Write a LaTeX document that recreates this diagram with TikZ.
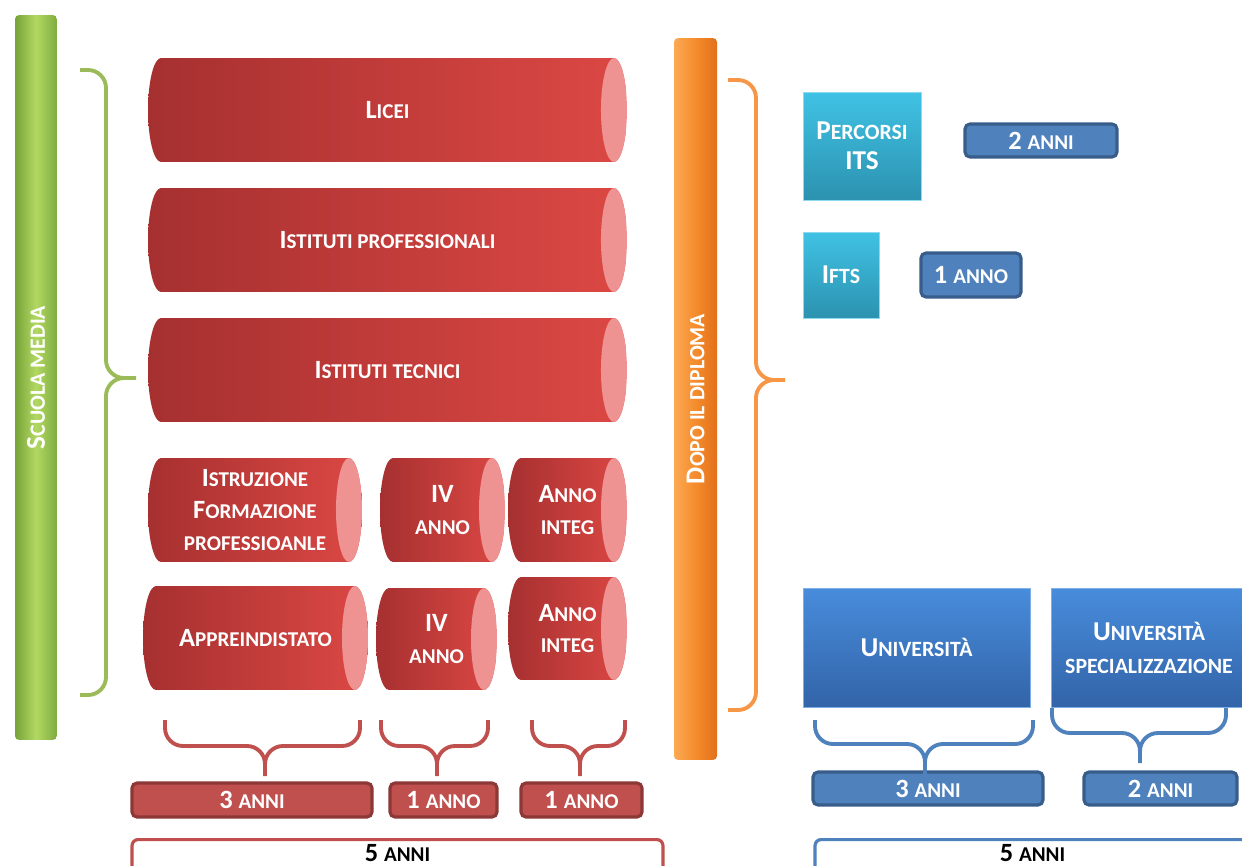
\documentclass[tikz,border=0pt]{standalone}
\usepackage{fontspec}
\setmainfont{Carlito}
\usepackage{xcolor}
\usepackage{tikz}
\usetikzlibrary{calc}

\definecolor{tubeL}{RGB}{166,48,48}
\definecolor{tubeR}{RGB}{220,72,68}
\definecolor{tubeEnd}{RGB}{238,146,146}
\definecolor{redFill}{RGB}{192,80,77}
\definecolor{redLine}{RGB}{140,56,54}
\definecolor{greenD}{RGB}{118,164,56}
\definecolor{greenL}{RGB}{178,216,98}
\definecolor{greenBr}{RGB}{155,187,89}
\definecolor{orangeD}{RGB}{226,112,26}
\definecolor{orangeM}{RGB}{244,140,44}
\definecolor{orangeL}{RGB}{252,170,84}
\definecolor{orangeBr}{RGB}{247,150,70}
\definecolor{cyanT}{RGB}{64,194,228}
\definecolor{cyanB}{RGB}{44,146,176}
\definecolor{uniT}{RGB}{72,140,220}
\definecolor{uniB}{RGB}{50,100,168}
\definecolor{blueFill}{RGB}{79,129,189}
\definecolor{blueLine}{RGB}{56,93,138}

\makeatletter
\newdimen\scdim
\newcommand\Sc[2]{#1{\scdim=\f@size pt\scdim=0.8\scdim\fontsize{\strip@pt\scdim}{\f@baselineskip}\selectfont #2}}
\makeatother

\begin{document}
\begin{tikzpicture}[
  x=0.02cm, y=-0.02cm,
  lab/.style={
    font=\bfseries\fontsize{15}{18}\selectfont,
    text=white, align=center, inner sep=0pt
  },
  tube/.style={
    lab,
    path picture={
      \shade[left color=tubeL, right color=tubeR]
        let \p1=(path picture bounding box.north east),
            \p2=(path picture bounding box.south west),
            \n1={0.5*(\y1-\y2)} in
        (\x2+0.26cm,\y1) arc[start angle=90, end angle=270, x radius=0.26cm, y radius=\n1]
        -- (\x1-0.26cm,\y2) arc[start angle=-90, end angle=90, x radius=0.26cm, y radius=\n1]
        -- cycle;
      \fill[tubeEnd]
        let \p1=(path picture bounding box.north east),
            \p2=(path picture bounding box.south west),
            \n1={0.5*(\y1-\y2)}, \n2={0.5*(\y1+\y2)} in
        (\x1-0.26cm,\n2) ellipse[x radius=0.26cm, y radius=\n1];
    }
  },
  bar/.style={
    lab, rotate=90, rounded corners=0.08cm,
    font=\bfseries\fontsize{15.5}{18}\selectfont
  },
  cyanbox/.style={
    lab, font=\bfseries\fontsize{15.5}{17}\selectfont,
    top color=cyanT, bottom color=cyanB, draw=cyanT!60!white, line width=0.5pt
  },
  unibox/.style={
    lab, font=\bfseries\fontsize{15.5}{18.7}\selectfont,
    top color=uniT, bottom color=uniB, draw=uniT!70!white, line width=0.5pt
  },
  redyr/.style={
    lab, fill=redFill, draw=redLine, line width=1.8pt, rounded corners=0.1cm
  },
  blueyr/.style={
    lab, fill=blueFill, draw=blueLine, line width=1.8pt, rounded corners=0.1cm
  },
  five/.style={
    lab, text=black, fill=white, line width=1.8pt, rounded corners=0.12cm,
    anchor=north, text height=0.44cm, text depth=0.4cm
  },
  brace/.style={line width=2.2pt, rounded corners=0.36cm}
]

  \useasboundingbox[fill=white] (0,0) rectangle (1242,866);

  \node [bar, left color=greenD, right color=greenD!85!greenL, middle color=greenL,
         minimum width=14.5cm, minimum height=0.84cm] (scuola) at (36,377.5) {\Sc{S}{CUOLA MEDIA}};
  \node [bar, left color=orangeL, right color=orangeD, middle color=orangeM,
         minimum width=14.44cm, minimum height=0.86cm] (dopo) at (695.5,399) {\Sc{D}{OPO IL DIPLOMA}};

  \node [tube, minimum width=9.58cm, minimum height=2.08cm] (licei) at (387.5,110) {\Sc{L}{ICEI}};
  \node [tube, minimum width=9.58cm, minimum height=2.08cm] (prof) at (387.5,240) {\Sc{I}{STITUTI PROFESSIONALI}};
  \node [tube, minimum width=9.58cm, minimum height=2.08cm] (tecn) at (387.5,370) {\Sc{I}{STITUTI TECNICI}};
  \node [tube, minimum width=4.28cm, minimum height=2.08cm] (istr) at (255,510) {\Sc{I}{STRUZIONE}\\\Sc{F}{ORMAZIONE}\\\Sc{}{PROFESSIOANLE}};
  \node [tube, minimum width=2.5cm, minimum height=2.08cm] (ivA) at (442.5,510) {IV\\\Sc{}{ANNO}};
  \node [tube, minimum width=2.38cm, minimum height=2.08cm] (integA) at (567.5,510) {\Sc{A}{NNO}\\\Sc{}{INTEG}};
  \node [tube, minimum width=4.5cm, minimum height=2.08cm] (appr) at (255.5,638) {\Sc{A}{PPREINDISTATO}};
  \node [tube, minimum width=2.42cm, minimum height=2.04cm] (ivB) at (436.5,639) {IV\\\Sc{}{ANNO}};
  \node [tube, minimum width=2.38cm, minimum height=2.06cm] (integB) at (567.5,628.5) {\Sc{A}{NNO}\\\Sc{}{INTEG}};

  \node [redyr, minimum width=4.8cm, minimum height=0.68cm] (anni3) at (252,800) {\Sc{3 }{ANNI}};
  \node [redyr, minimum width=2.14cm, minimum height=0.68cm] (annoIV) at (443.5,800) {\Sc{1 }{ANNO}};
  \node [redyr, minimum width=2.42cm, minimum height=0.68cm] (annoInt) at (581.5,800) {\Sc{1 }{ANNO}};
  \node [five, draw=redFill, minimum width=10.62cm] (tot1) at (397.5,838) {\Sc{5 }{ANNI}};

  \node [cyanbox, minimum width=2.36cm, minimum height=2.16cm] (its) at (862,146) {\Sc{P}{ERCORSI}\\ITS};
  \node [cyanbox, minimum width=1.52cm, minimum height=1.72cm] (ifts) at (841,275) {\Sc{I}{FTS}};
  \node [blueyr, minimum width=3.04cm, minimum height=0.66cm] (itsY) at (1041,140.5) {\Sc{2 }{ANNI}};
  \node [blueyr, minimum width=2cm, minimum height=0.88cm] (iftsY) at (971,275) {\Sc{1 }{ANNO}};

  \node [unibox, minimum width=4.54cm, minimum height=2.38cm] (uni) at (916.5,647.5) {\Sc{U}{NIVERSITÀ}};
  \node [unibox, minimum width=3.92cm, minimum height=2.38cm] (spec) at (1149,647.5) {\Sc{U}{NIVERSITÀ}\\\Sc{}{SPECIALIZZAZIONE}};
  \node [blueyr, minimum width=4.6cm, minimum height=0.66cm] (uniY) at (928,788.5) {\Sc{3 }{ANNI}};
  \node [blueyr, minimum width=3.06cm, minimum height=0.66cm] (specY) at (1160.5,788.5) {\Sc{2 }{ANNI}};
  \node [five, draw=blueFill, minimum width=8.7cm] (tot2) at (1032.5,838) {\Sc{5 }{ANNI}};

  \draw [brace, greenBr] (80,70) -- (106,70) -- (106,378) -- (136,378)
                         (80,695) -- (106,695) -- (106,378) -- (136,378);
  \draw [brace, orangeBr] (728,80) -- (756,80) -- (756,380) -- (785,380)
                          (728,710) -- (756,710) -- (756,380) -- (785,380);

  \draw [brace, redFill] (165,720) -- (165,746) -- (265,746) -- (265,776)
                         (360,720) -- (360,746) -- (265,746) -- (265,776);
  \draw [brace, redFill] (381,720) -- (381,746) -- (437,746) -- (437,776)
                         (488,720) -- (488,746) -- (437,746) -- (437,776);
  \draw [brace, redFill] (532,720) -- (532,746) -- (580,746) -- (580,776)
                         (625,720) -- (625,746) -- (580,746) -- (580,776);

  \draw [brace, blueFill] (815,720) -- (815,744) -- (925,744) -- (925,774)
                          (1033,720) -- (1033,744) -- (925,744) -- (925,774);
  \draw [brace, blueFill] (1052,708) -- (1052,733) -- (1140,733) -- (1140,763)
                          (1226,708) -- (1226,733) -- (1140,733) -- (1140,763);

\end{tikzpicture}
\end{document}
